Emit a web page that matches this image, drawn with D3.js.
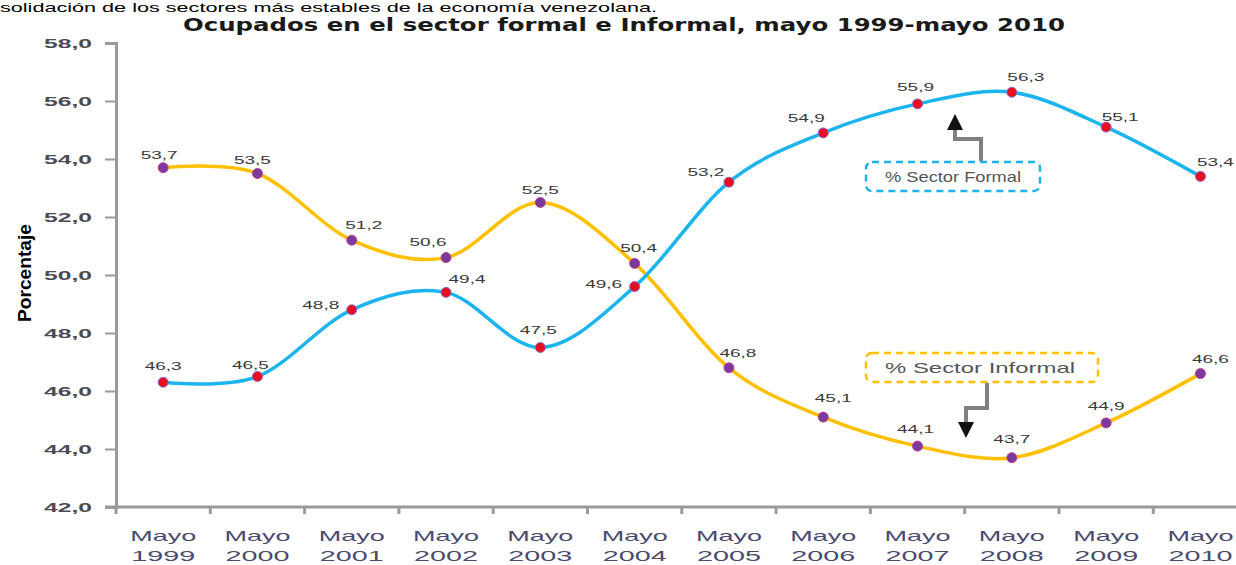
<!DOCTYPE html>
<html><head><meta charset="utf-8">
<script src="https://cdn.jsdelivr.net/npm/d3@7"></script>
<style>
html,body{margin:0;padding:0;background:#fff;overflow:hidden;}
svg{display:block;}
</style></head>
<body>
<svg id="chart" width="1236" height="565"></svg>
<script>
// ---- data ----
const topText = "solidación de los sectores más estables de la economía venezolana.";
const title = "Ocupados en el sector formal e Informal, mayo 1999-mayo 2010";
const yLabel = "Porcentaje";
const categories = ["1999","2000","2001","2002","2003","2004","2005","2006","2007","2008","2009","2010"];
const catPrefix = "Mayo";
const formal   = [46.3, 46.5, 48.8, 49.4, 47.5, 49.6, 53.2, 54.9, 55.9, 56.3, 55.1, 53.4];
const informal = [53.7, 53.5, 51.2, 50.6, 52.5, 50.4, 46.8, 45.1, 44.1, 43.7, 44.9, 46.6];
const yTicks = [42, 44, 46, 48, 50, 52, 54, 56, 58];
const legendFormal = "% Sector Formal";
const legendInformal = "% Sector Informal";

// label placement offsets (styling, px relative to point)
const formalLabelOff = [[0,-16],[-7,-12],[-31,-5],[21,-13],[-2,-18],[-31,-3],[-23,-10],[-17,-15],[-2,-17],[14,-15],[14,-10],[15,-14]];
const informalLabelOff = [[-4,-13],[-5,-14],[12,-15],[-18,-16],[0,-13],[4,-15],[9,-15],[10,-19],[-2,-17],[0,-19],[0,-17],[10,-15]];

const fmt = v => d3.format(".1f")(v).replace(".", ",");

const svg = d3.select("#chart");
const x0 = 116, step = 94.3;
const x = d3.scaleBand().domain(categories).range([x0, x0 + step*categories.length]).padding(0);
const cx = c => x(c) + x.bandwidth()/2;
const y = d3.scaleLinear().domain([42, 58]).range([507, 43]);

const axisColor = "#9a9a9a";

// top text (partially visible line of the source document)
svg.append("text").attr("x", 0).attr("y", 12)
  .attr("font-family", "Liberation Sans, Arial, sans-serif").attr("font-size", 13)
  .attr("textLength", 657).attr("lengthAdjust", "spacingAndGlyphs")
  .attr("fill", "#000").text(topText);

// title
svg.append("text").attr("x", 183).attr("y", 31)
  .attr("font-family", "DejaVu Sans, sans-serif").attr("font-weight", "bold").attr("font-size", 17)
  .attr("textLength", 882).attr("lengthAdjust", "spacingAndGlyphs")
  .attr("fill", "#1a1a1a").text(title);

// y axis label
svg.append("text").attr("transform", "translate(31,273) rotate(-90)")
  .attr("text-anchor", "middle")
  .attr("font-family", "Liberation Sans, Arial, sans-serif").attr("font-weight", "bold").attr("font-size", 19)
  .attr("textLength", 98).attr("lengthAdjust", "spacingAndGlyphs")
  .attr("fill", "#000").text(yLabel);

// y axis
const yAxis = d3.axisLeft(y).tickValues(yTicks).tickSize(11).tickPadding(13).tickFormat(fmt);
const gy = svg.append("g").attr("transform", `translate(${x0},0)`).call(yAxis);
gy.select(".domain").attr("stroke", axisColor).attr("stroke-width", 3);
gy.selectAll(".tick line").attr("stroke", axisColor).attr("stroke-width", 2);
gy.selectAll(".tick text")
  .attr("font-family", "Liberation Sans, Arial, sans-serif").attr("font-weight", "bold").attr("font-size", 13)
  .attr("fill", "#4a4a55").attr("textLength", 48).attr("lengthAdjust", "spacingAndGlyphs");

// x axis line
svg.append("line").attr("x1", 105).attr("x2", x0 + step*categories.length).attr("y1", y(42)).attr("y2", y(42))
  .attr("stroke", axisColor).attr("stroke-width", 3);
// x ticks at category boundaries
svg.append("g").selectAll("line").data(categories).join("line")
  .attr("x1", d => x(d)).attr("x2", d => x(d)).attr("y1", y(42)).attr("y2", y(42) + 7)
  .attr("stroke", axisColor).attr("stroke-width", 3);
// x labels
const xl = svg.append("g").selectAll("g").data(categories).join("g")
  .attr("transform", d => `translate(${cx(d)},0)`);
xl.append("text").attr("y", 541).attr("text-anchor", "middle")
  .attr("font-family", "Liberation Sans, Arial, sans-serif").attr("font-size", 15)
  .attr("textLength", 66).attr("lengthAdjust", "spacingAndGlyphs")
  .attr("fill", "#4a4a6e").text(catPrefix);
xl.append("text").attr("y", 561).attr("text-anchor", "middle")
  .attr("font-family", "Liberation Sans, Arial, sans-serif").attr("font-size", 15)
  .attr("textLength", 64).attr("lengthAdjust", "spacingAndGlyphs")
  .attr("fill", "#4a4a6e").text(d => d);

// lines
const line = d3.line().x((d, i) => cx(categories[i])).y(d => y(d)).curve(d3.curveCardinal.tension(0));
svg.append("path").datum(informal).attr("d", line).attr("fill", "none")
  .attr("stroke", "#FFC000").attr("stroke-width", 3.5);
svg.append("path").datum(formal).attr("d", line).attr("fill", "none")
  .attr("stroke", "#1CB4EE").attr("stroke-width", 3.5);

// markers
svg.append("g").selectAll("circle").data(informal).join("circle")
  .attr("cx", (d, i) => cx(categories[i])).attr("cy", d => y(d)).attr("r", 5)
  .attr("fill", "#7B3AA0").attr("stroke", "#C0408A").attr("stroke-width", 1);
svg.append("g").selectAll("circle").data(formal).join("circle")
  .attr("cx", (d, i) => cx(categories[i])).attr("cy", d => y(d)).attr("r", 5)
  .attr("fill", "#E8101C").attr("stroke", "#8A6ACF").attr("stroke-width", 1);

// data labels
function labels(data, off) {
  svg.append("g").selectAll("text").data(data).join("text")
    .attr("x", (d, i) => cx(categories[i]) + off[i][0])
    .attr("y", (d, i) => y(d) + off[i][1] + 4)
    .attr("text-anchor", "middle")
    .attr("font-family", "Liberation Sans, Arial, sans-serif").attr("font-size", 11)
    .attr("textLength", 37).attr("lengthAdjust", "spacingAndGlyphs")
    .attr("fill", "#3a3a3a").text(d => fmt(d));
}
labels(formal, formalLabelOff);
labels(informal, informalLabelOff);

// arrow marker
const defs = svg.append("defs");
defs.append("marker").attr("id", "arr").attr("viewBox", "0 0 10 10").attr("refX", 5).attr("refY", 5)
  .attr("markerWidth", 4).attr("markerHeight", 4).attr("orient", "auto-start-reverse")
  .append("path").attr("d", "M0,0 L10,5 L0,10 Z").attr("fill", "#111");

// legend formal
svg.append("rect").attr("x", 866).attr("y", 162).attr("width", 174).attr("height", 29).attr("rx", 6)
  .attr("fill", "none").attr("stroke", "#1CB4EE").attr("stroke-width", 2.5).attr("stroke-dasharray", "7,5");
svg.append("text").attr("x", 953).attr("y", 182).attr("text-anchor", "middle")
  .attr("font-family", "Liberation Sans, Arial, sans-serif").attr("font-size", 15)
  .attr("textLength", 136).attr("lengthAdjust", "spacingAndGlyphs")
  .attr("fill", "#555").text(legendFormal);
svg.append("path").attr("d", "M981,161 V139 H955 V122").attr("fill", "none")
  .attr("stroke", "#808080").attr("stroke-width", 4).attr("marker-end", "url(#arr)");

// legend informal
svg.append("rect").attr("x", 866).attr("y", 353).attr("width", 232).attr("height", 29).attr("rx", 6)
  .attr("fill", "none").attr("stroke", "#FFC000").attr("stroke-width", 2.5).attr("stroke-dasharray", "7,5");
svg.append("text").attr("x", 980).attr("y", 373).attr("text-anchor", "middle")
  .attr("font-family", "Liberation Sans, Arial, sans-serif").attr("font-size", 15)
  .attr("textLength", 190).attr("lengthAdjust", "spacingAndGlyphs")
  .attr("fill", "#555").text(legendInformal);
svg.append("path").attr("d", "M987,383 V408 H966 V430").attr("fill", "none")
  .attr("stroke", "#808080").attr("stroke-width", 4).attr("marker-end", "url(#arr)");
</script>
</body></html>
